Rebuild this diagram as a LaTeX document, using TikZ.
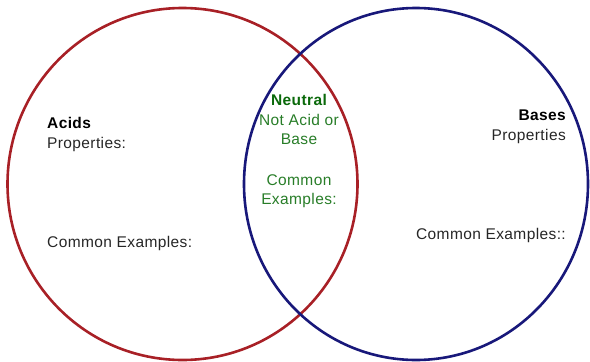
\documentclass[tikz,border=0pt]{standalone}
\usepackage{fontspec}
\setmainfont{Liberation Sans}[LetterSpace=2.5]
\definecolor{acidred}{RGB}{168,32,38}
\definecolor{basenavy}{RGB}{24,24,122}
\definecolor{neutralgreen}{RGB}{40,125,40}
\definecolor{neutraldark}{RGB}{10,105,10}
\tikzset{
  lbl/.style={inner sep=0pt, font=\fontsize{15.5}{20}\selectfont, text=black!85},
  hdr/.style={lbl, font=\fontsize{15.5}{20}\selectfont\bfseries, text=black},
  ntr/.style={lbl, text=neutralgreen}
}
\begin{document}
\begin{tikzpicture}[x=1pt,y=-1pt]
\useasboundingbox (0,0) rectangle (590,362);
\draw[acidred, line width=2.6pt] (182.5,184) ellipse [x radius=175pt, y radius=176pt];
\draw[basenavy, line width=2.6pt] (416,184) ellipse [x radius=172pt, y radius=176pt];
% acids
\node[hdr, anchor=base west] (acids) at (47,128) {Acids};
\node[lbl, anchor=base west] (acidprop) at (47,148) {Properties:};
\node[lbl, anchor=base west] (acidex) at (47,247) {Common Examples:};
% neutral
\node[hdr, anchor=base, text=neutraldark] (neutral) at (299,105) {Neutral};
\node[ntr, anchor=base] (notacid) at (299,125) {Not Acid or};
\node[ntr, anchor=base] (notbase) at (299,144) {Base};
\node[ntr, anchor=base] (neutralex) at (299,185) {Common};
\node[ntr, anchor=base] (neutralex2) at (299,204) {Examples:};
% bases
\node[hdr, anchor=base east] (bases) at (566,120) {Bases};
\node[lbl, anchor=base east] (baseprop) at (566,140) {Properties};
\node[lbl, anchor=base east] (baseex) at (566,239) {Common Examples::};
\end{tikzpicture}
\end{document}
